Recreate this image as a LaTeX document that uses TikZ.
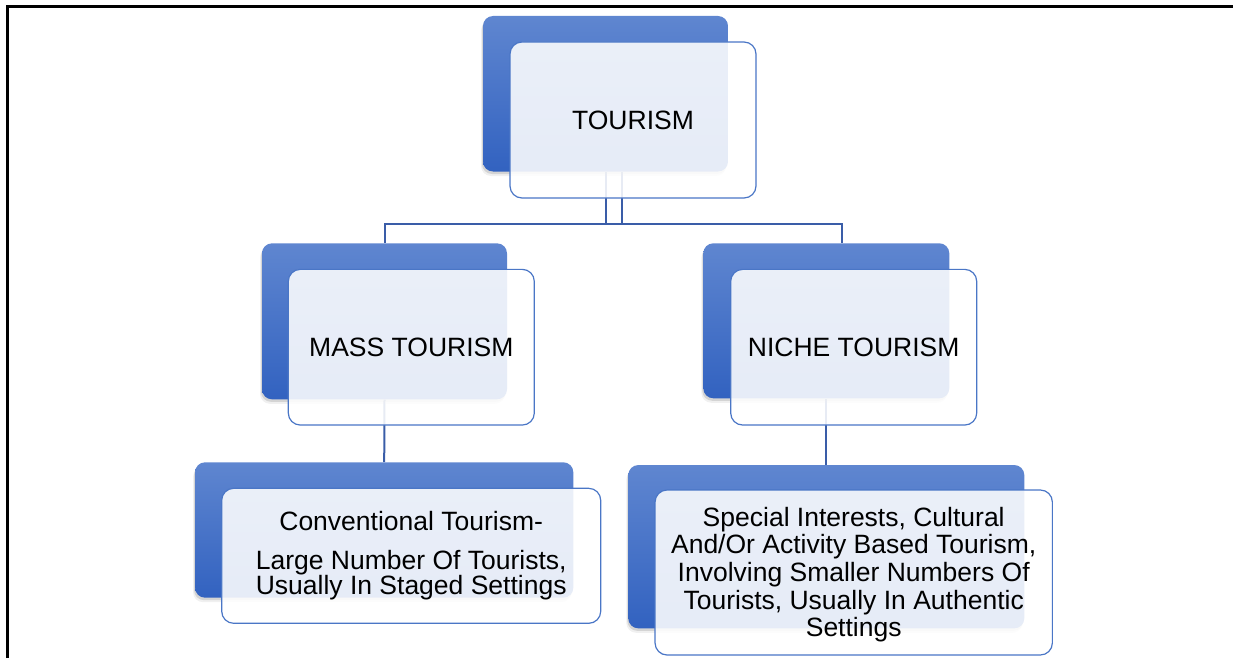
\documentclass[tikz,border=0pt]{standalone}
\usepackage{fontspec}
\setmainfont{Liberation Sans}
\usetikzlibrary{shadows}
\definecolor{lineblue}{HTML}{3A5DA8}
\definecolor{backtop}{HTML}{5F86D0}
\definecolor{backbot}{HTML}{3262C0}
\definecolor{frontedge}{HTML}{4A76C6}
\pgfdeclarelayer{bg}
\pgfsetlayers{bg,main}
\newcommand\stacklines[2]{\vtop{\baselineskip=#1\lineskiplimit=-\maxdimen\lineskip=0pt\halign{\hfil##\hfil\cr#2\crcr}}}
\begin{document}
\begin{tikzpicture}[x=1pt,y=-1pt,
  backbox/.style={rounded corners=10pt, top color=backtop, bottom color=backbot, draw=none, inner sep=0pt,
    drop shadow={shadow xshift=-2pt,shadow yshift=-4.5pt,opacity=.12},
    drop shadow={shadow xshift=-1pt,shadow yshift=-2.5pt,opacity=.25}},
  frontbox/.style={rounded corners=12pt, draw=frontedge, line width=1.2pt, fill=white, fill opacity=0.88,
    text opacity=1, inner sep=0pt, font=\fontsize{26.5}{30}\selectfont},
  link/.style={draw=lineblue, line width=2pt},
  frame/.style={line width=2.3pt, draw=black}]
\useasboundingbox (0,0) rectangle (1233,658);
\draw[frame] (7.5,658) -- (7.5,6.5) -- (1233,6.5);

\node[backbox, minimum width=245pt, minimum height=155.5pt] (tb) at (605.5,93.75) {};
\node[frontbox, minimum width=246pt, minimum height=156pt] (tf) at (633,120) {TOURISM};

\node[backbox, minimum width=245pt, minimum height=156pt] (mb) at (384.5,321.3) {};
\node[frontbox, minimum width=246pt, minimum height=155.7pt] (mf) at (411.3,347.2) {MASS TOURISM};

\node[backbox, minimum width=246pt, minimum height=155pt] (nb) at (826.3,320.8) {};
\node[frontbox, minimum width=246pt, minimum height=155.7pt] (nf) at (853.7,347.2) {NICHE TOURISM};

\node[backbox, minimum width=378.3pt, minimum height=135.4pt] (cb) at (384.2,530) {};
\node[frontbox, minimum width=379pt, minimum height=135pt] (cf) at (411.2,555.8)
  {\stacklines{25pt}{Conventional Tourism-\cr\noalign{\vskip14pt}Large Number Of Tourists,\cr Usually In Staged Settings}};

\node[backbox, minimum width=396pt, minimum height=163.3pt] (sb) at (826.3,546.7) {};
\node[frontbox, minimum width=397.3pt, minimum height=165pt] (sf) at (853.7,572.5)
  {\stacklines{27.7pt}{Special Interests, Cultural\cr And/Or Activity Based Tourism,\cr Involving Smaller Numbers Of\cr Tourists, Usually In Authentic\cr Settings\cr\noalign{\vskip-4.4pt}}};

\begin{pgfonlayer}{bg}
\draw[link] (tb.south) -- ++(0,52.5) -| (mb.north);
\draw[link] ([xshift=16pt]tb.south) -- ++(0,52.5) -| ([xshift=16pt]nb.north);
\draw[link] ([yshift=-52.5pt]tb.south) -- ([yshift=-52.5pt,xshift=16pt]tb.south);
\draw[link] (mb.south) -- (cb.north);
\draw[link] (nb.south) -- (sb.north);
\end{pgfonlayer}
\end{tikzpicture}
\end{document}
